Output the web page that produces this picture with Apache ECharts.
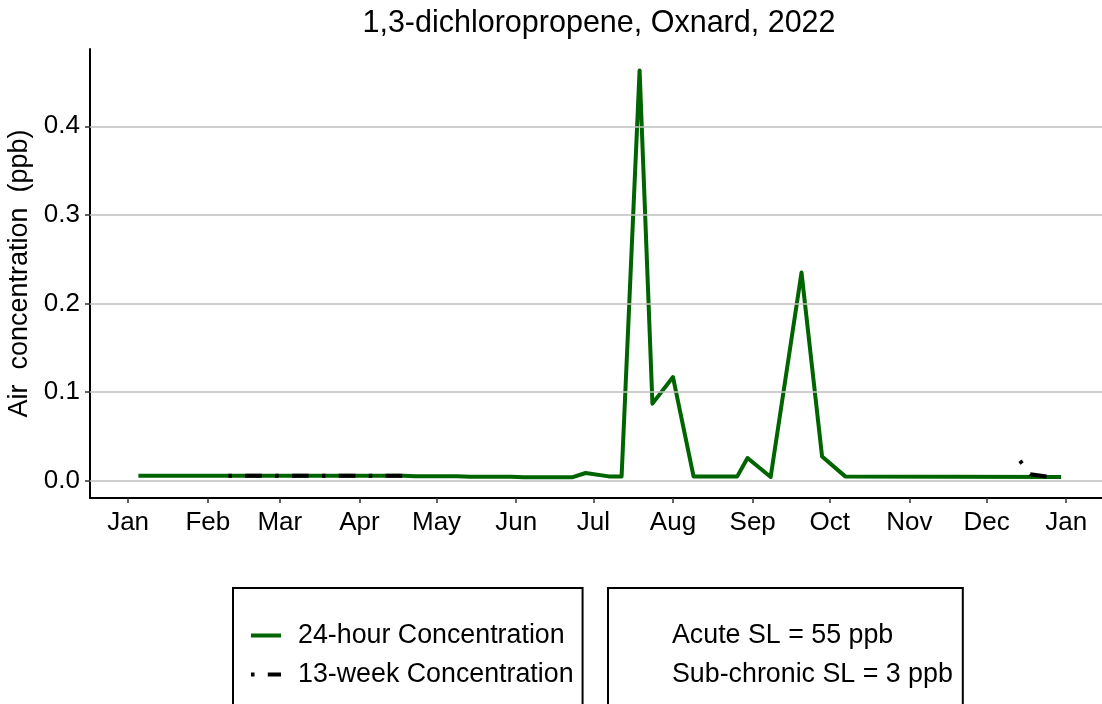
<!DOCTYPE html>
<html>
<head>
  <meta charset="utf-8">
  <title>1,3-dichloropropene, Oxnard, 2022</title>
  <script src="https://cdn.jsdelivr.net/npm/echarts@6.0.0/dist/echarts.min.js"></script>
  <style>
    body { margin: 0; padding: 0; background: #fff; }
    #main { width: 1102px; height: 704px; }
  </style>
</head>
<body>
<div id="main"></div>
<script>
  // 24-hour samples
  var dates24 = ['2022-01-05', '2022-04-18', '2022-04-23', '2022-05-09', '2022-05-14', '2022-05-30',
    '2022-06-04', '2022-06-23', '2022-06-28', '2022-07-07', '2022-07-12', '2022-07-19', '2022-07-24',
    '2022-08-01', '2022-08-09', '2022-08-26', '2022-08-30', '2022-09-08', '2022-09-20', '2022-09-28',
    '2022-10-07', '2022-12-30'];
  var conc24 = [0.0055, 0.0055, 0.005, 0.005, 0.0045, 0.0045,
    0.004, 0.004, 0.0087, 0.0049, 0.0049, 0.463, 0.087,
    0.117, 0.0049, 0.0049, 0.0256, 0.0042, 0.235, 0.0274,
    0.0049, 0.0042];

  // 13-week rolling values (null = gap)
  var dates13 = ['2022-02-09', '2022-03-16', '2022-04-18', '2022-08-01', '2022-12-14', '2022-12-18', '2022-12-25'];
  var conc13 = [0.0055, 0.0055, 0.0055, null, 0.0226, 0.0073, 0.0045];

  var monthTicks = ['2022-01-01', '2022-02-01', '2022-03-01', '2022-04-01', '2022-05-01', '2022-06-01',
    '2022-07-01', '2022-08-01', '2022-09-01', '2022-10-01', '2022-11-01', '2022-12-01', '2023-01-01'];
  var monthNames = ['Jan', 'Feb', 'Mar', 'Apr', 'May', 'Jun', 'Jul', 'Aug', 'Sep', 'Oct', 'Nov', 'Dec'];
  var yTicks = [0, 0.1, 0.2, 0.3, 0.4];

  var FONT = 'Liberation Sans';
  var HOUR = 3600 * 1000;

  // date string -> local timestamp
  function t(s) {
    var p = s.split('-').map(Number);
    return new Date(p[0], p[1] - 1, p[2]).getTime();
  }

  var myChart = echarts.init(document.getElementById('main'));

  var legendBase = {
    orient: 'vertical',
    top: 588,
    height: 160,
    itemWidth: 30,
    itemHeight: 14,
    itemGap: 12,
    borderColor: '#000',
    borderWidth: 2,
    selectedMode: false,
    textStyle: { fontFamily: FONT, fontSize: 26.8, lineHeight: 26, color: '#000', padding: [0, 0, 0, 12] }
  };

  var option = {
    animation: false,
    backgroundColor: '#fff',
    textStyle: { fontFamily: FONT },
    title: {
      text: '1,3-dichloropropene, Oxnard, 2022',
      left: 599,
      top: 8,
      padding: 0,
      textAlign: 'center',
      textStyle: { fontFamily: FONT, fontSize: 30.5, fontWeight: 'normal', color: '#000' }
    },
    grid: {
      left: 90,
      right: 0,
      top: 49,
      bottom: 206,
      containLabel: false,
      outerBoundsMode: 'none'
    },
    legend: [
      Object.assign({}, legendBase, {
        data: ['24-hour Concentration', '13-week Concentration'],
        left: 233,
        padding: [34, 9, 40, 16],
        itemStyle: { opacity: 0 },
        lineStyle: { width: 4 }
      }),
      Object.assign({}, legendBase, {
        data: ['Acute SL = 55 ppb', 'Sub-chronic SL = 3 ppb'],
        left: 608,
        padding: [34, 10, 40, 16],
        itemStyle: { opacity: 0 },
        lineStyle: { opacity: 0 }
      })
    ],
    xAxis: {
      type: 'value',
      min: t('2021-12-17') + 4 * HOUR,
      max: t('2023-01-14') + 22 * HOUR,
      axisLine: { onZero: false, lineStyle: { color: '#000', width: 2 } },
      axisTick: {
        show: true,
        length: 5,
        customValues: monthTicks.map(t),
        lineStyle: { color: '#333', width: 1.5 }
      },
      axisLabel: {
        customValues: monthTicks.map(t),
        margin: 12,
        fontFamily: FONT,
        fontSize: 26,
        color: '#000',
        formatter: function (v) {
          return monthNames[new Date(v).getMonth()];
        }
      },
      splitLine: { show: false }
    },
    yAxis: {
      type: 'value',
      min: -0.0195,
      max: 0.4872,
      name: 'Air  concentration  (ppb)',
      nameLocation: 'middle',
      nameGap: 44,
      nameTextStyle: { fontFamily: FONT, fontSize: 27, color: '#000' },
      axisLine: { show: true, lineStyle: { color: '#000', width: 2 } },
      axisTick: {
        show: true,
        length: 5,
        customValues: yTicks,
        lineStyle: { color: '#333', width: 1.5 }
      },
      axisLabel: {
        customValues: yTicks,
        margin: 10,
        fontFamily: FONT,
        fontSize: 26,
        color: '#000',
        formatter: function (v) { return v.toFixed(1); }
      },
      splitLine: { show: false }
    },
    series: [
      {
        // horizontal grid lines
        name: 'grid',
        type: 'line',
        data: [],
        silent: true,
        z: 1,
        markLine: {
          silent: true,
          symbol: 'none',
          label: { show: false },
          lineStyle: { color: '#BEBEBE', width: 1.6, type: 'solid' },
          emphasis: { disabled: true },
          data: yTicks.map(function (v) { return { yAxis: v }; })
        }
      },
      {
        name: '24-hour Concentration',
        type: 'line',
        z: 3,
        symbol: 'none',
        showSymbol: false,
        lineStyle: { color: '#006400', width: 4, join: 'round', cap: 'butt' },
        itemStyle: { color: '#006400' },
        data: dates24.map(function (d, i) { return [t(d), conc24[i]]; })
      },
      {
        name: '13-week Concentration',
        type: 'line',
        z: 4,
        symbol: 'none',
        showSymbol: false,
        connectNulls: false,
        lineStyle: { color: '#000', width: 4, type: [3.5, 13.3, 16.7, 13.3], join: 'round', cap: 'butt' },
        itemStyle: { color: '#000' },
        data: dates13.map(function (d, i) { return [t(d), conc13[i] === null ? '-' : conc13[i]]; })
      },
      {
        name: 'Acute SL = 55 ppb',
        type: 'line',
        symbol: 'none',
        lineStyle: { color: '#fff', opacity: 0 },
        itemStyle: { color: '#fff', opacity: 0 },
        data: []
      },
      {
        name: 'Sub-chronic SL = 3 ppb',
        type: 'line',
        symbol: 'none',
        lineStyle: { color: '#fff', opacity: 0 },
        itemStyle: { color: '#fff', opacity: 0 },
        data: []
      }
    ]
  };

  myChart.setOption(option);
  window.addEventListener('resize', function () {
    myChart.resize();
  });
</script>
</body>
</html>
